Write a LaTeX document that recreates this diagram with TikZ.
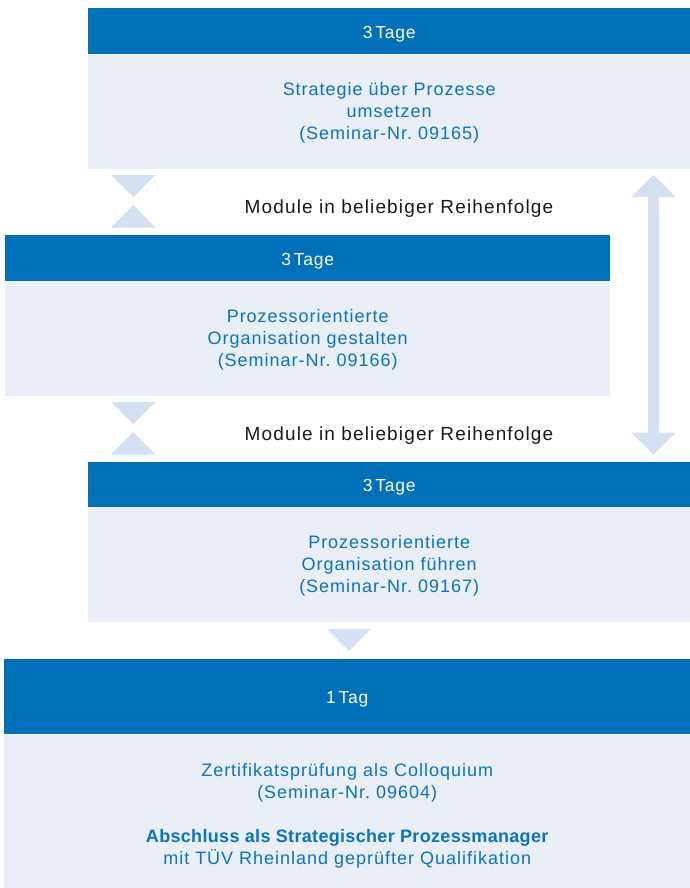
\documentclass[tikz,border=0pt]{standalone}
\usepackage{fontspec}
\setmainfont{Liberation Sans}
\usetikzlibrary{positioning}
\usetikzlibrary{arrows.meta}

\definecolor{tuvblue}{HTML}{0070B8}
\definecolor{boxbg}{HTML}{E9EEF7}
\definecolor{textblue}{HTML}{0B74BD}
\definecolor{markgrey}{HTML}{D4E0F1}

\newcommand{\strongline}[1]{{\bfseries\addfontfeature{LetterSpace=1.8}#1}}
\newcommand{\toplift}[1]{\rule{0pt}{#1}}

\tikzset{
    header/.style={fill=tuvblue, text=white, inner sep=0pt, text height=14pt, text depth=0pt,
        font=\fontsize{17.5}{20}\selectfont\addfontfeature{LetterSpace=4}},
    body/.style={fill=boxbg, text=textblue, inner sep=0pt, align=center,
        font=\fontsize{18}{22}\selectfont\addfontfeature{LetterSpace=5.5}},
    order/.style={text=black!90, inner sep=0pt, text height=13pt, text depth=0pt,
        font=\fontsize{19}{22}\selectfont\addfontfeature{LetterSpace=6}},
    wedge/.style={fill=markgrey},
    both/.style={draw=markgrey, line width=11pt,
        {Triangle[width=45pt,length=22pt,line width=0pt]}-{Triangle[width=45pt,length=22pt,line width=0pt]}}
}

\begin{document}
\begin{tikzpicture}[x=1pt, y=-1pt, node distance=0pt]
        \useasboundingbox (0, 0) rectangle (690, 888);

        \node[header, anchor=north west, minimum width=602pt, minimum height=46pt] (h1) at (88, 8) {3\,Tage};
        \node[body, below=of h1, minimum width=602pt, minimum height=114pt] (b1) {\toplift{16pt}Strategie über Prozesse\\umsetzen\\(Seminar-Nr.~09165)};

        \node[header, anchor=north west, minimum width=605pt, minimum height=46pt] (h2) at (5, 235) {3\,Tage};
        \node[body, below=of h2, minimum width=605pt, minimum height=114pt] (b2) {\toplift{16pt}Prozessorientierte\\Organisation gestalten\\(Seminar-Nr.~09166)};

        \node[header, anchor=north west, minimum width=602pt, minimum height=45pt] (h3) at (88, 462) {3\,Tage};
        \node[body, below=of h3, minimum width=602pt, minimum height=114pt] (b3) {\toplift{16pt}Prozessorientierte\\Organisation führen\\(Seminar-Nr.~09167)};

        \node[header, anchor=north west, minimum width=686pt, minimum height=75pt] (h4) at (4, 659) {1\,Tag};
        \node[body, below=of h4, minimum width=686pt, minimum height=154pt] (b4) {\toplift{21pt}Zertifikatsprüfung als Colloquium\\(Seminar-Nr.~09604)\\[22pt]\strongline{Abschluss als Strategischer Prozessmanager}\\mit TÜV Rheinland geprüfter Qualifikation};

        \node[order] (m1) at (399, 207) {Module in beliebiger Reihenfolge};
        \node[order] (m2) at (399, 434) {Module in beliebiger Reihenfolge};

        % hourglass marks
        \fill[wedge] (111, 175) -- (155.5, 175) -- (133.3, 197) -- cycle;
        \fill[wedge] (111, 227.5) -- (155.5, 227.5) -- (133.3, 205) -- cycle;
        \fill[wedge] (111, 402) -- (155.5, 402) -- (133.3, 424) -- cycle;
        \fill[wedge] (111, 454.5) -- (155.5, 454.5) -- (133.3, 432) -- cycle;
        \fill[wedge] (327, 629) -- (371, 629) -- (349, 651) -- cycle;

        \coordinate (top) at (653.5, 175);
        \coordinate (bot) at (653.5, 454.5);
        \draw[both] (top) -- (bot);
    \end{tikzpicture}
\end{document}
